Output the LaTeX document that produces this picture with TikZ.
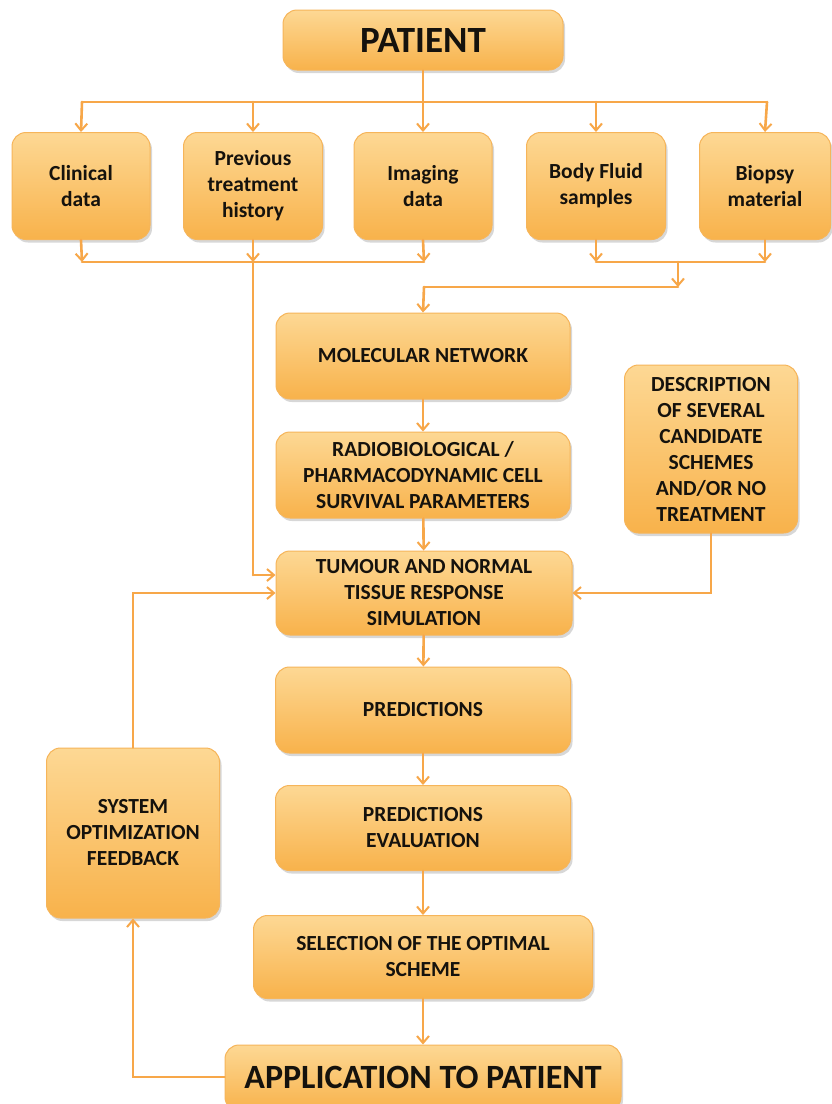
\documentclass[tikz,border=0pt]{standalone}
\usepackage{fontspec}
\setmainfont{Carlito}
\usetikzlibrary{arrows.meta,shadows,positioning}
\definecolor{boxtop}{HTML}{FDD894}
\definecolor{boxbot}{HTML}{F8B24B}
\definecolor{boxedge}{HTML}{F6B55A}
\definecolor{wire}{HTML}{F7A749}
\definecolor{ink}{HTML}{15120D}
\tikzset{
  card/.style={rectangle, rounded corners=14pt, top color=boxtop, bottom color=boxbot,
    draw=boxedge, line width=1pt, align=center, text=ink, inner sep=2pt,
    font=\bfseries\fontsize{21.5}{26}\selectfont,
    drop shadow={shadow xshift=2pt, shadow yshift=-3pt, opacity=0.22, fill=black!70}},
  bigcard/.style={card, font=\bfseries\fontsize{37}{42}\selectfont},
  wireline/.style={draw=wire, line width=2.6pt, line cap=round},
  feed/.style={wireline, -{Straight Barb[length=7pt,width=12pt,line width=2pt]}},
}
\begin{document}
\begin{tikzpicture}[x=1pt,y=-1pt]
\useasboundingbox[fill=white] (0,0) rectangle (832,1104);

% top level and data sources
\node[bigcard, minimum width=280pt, minimum height=60pt] (patient) at (423,40) {PATIENT};
\node[card, minimum width=138pt, minimum height=107pt] (clin) at (81,186) {Clinical\\data};
\node[card, minimum width=139pt, minimum height=107pt] (prev) at (253,186) {Previous\\treatment\\history};
\node[card, minimum width=138pt, minimum height=107pt] (img) at (423,186) {Imaging\\data};
\node[card, minimum width=139pt, minimum height=107pt] (fluid) at (596,186) {Body Fluid\\samples};
\node[card, minimum width=131pt, minimum height=107pt] (biop) at (765,186) {Biopsy\\material};

% main processing chain
\node[card, minimum width=294pt, minimum height=86pt] (mol) at (423,356) {MOLECULAR NETWORK};
\node[card, minimum width=294pt, minimum height=86pt] (rad) at (423,475) {RADIOBIOLOGICAL /\\PHARMACODYNAMIC CELL\\SURVIVAL PARAMETERS};
\node[card, minimum width=296pt, minimum height=84pt] (tum) at (424,593) {TUMOUR AND NORMAL\\TISSUE RESPONSE\\SIMULATION};
\node[card, minimum width=173pt, minimum height=168pt] (desc) at (711,449) {DESCRIPTION\\OF SEVERAL\\CANDIDATE\\SCHEMES\\AND/OR NO\\TREATMENT};
\node[card, minimum width=295pt, minimum height=86pt] (pred) at (423,710) {PREDICTIONS};
\node[card, minimum width=295pt, minimum height=85pt] (eval) at (423,828) {PREDICTIONS\\EVALUATION};
\node[card, minimum width=339pt, minimum height=83pt] (sel) at (423,957) {SELECTION OF THE OPTIMAL\\SCHEME};
\node[bigcard, font=\bfseries\fontsize{34}{38}\selectfont, minimum width=396pt, minimum height=66pt] (app) at (423,1078) {\raisebox{2pt}{APPLICATION TO PATIENT}};
\node[card, minimum width=173pt, minimum height=170pt] (sys) at (133,833) {SYSTEM\\OPTIMIZATION\\FEEDBACK};

% junction points
\coordinate (split) at (423,102);
\coordinate (busL) at (82,102);
\coordinate (busR) at (767,102);
\coordinate (jclin) at (82,262);
\coordinate (jprev) at (253,262);
\coordinate (jimg) at (424,262);
\coordinate (jfluid) at (596,262);
\coordinate (jbiop) at (765,262);
\coordinate (jmid) at (678,262);
\coordinate (jdrop) at (678,287);
\coordinate (jmol) at (424,287);
\coordinate (prevturn) at (253,575);
\coordinate (descturn) at (711,593);
\coordinate (sysup) at (133,593);
\coordinate (appturn) at (133,1077);

% fan-out from the patient
\draw[wireline] (patient.south) -- (split);
\draw[wireline] (busL) -- (busR);
\foreach \b/\x in {clin/82, prev/253, img/423, fluid/596, biop/767}
  \draw[feed] (\x,102) -- (\b.north);

% collection under the data boxes
\draw[feed] (clin.south) -- (jclin);
\draw[feed] (img.south) -- (jimg);
\draw[wireline] (jclin) -- (jimg);
\draw[feed] (prev.south) -- (jprev);
\draw[wireline] (jprev) -- (prevturn);
\draw[feed] (prevturn) -- ([yshift=18pt]tum.west);

\draw[feed] (fluid.south) -- (jfluid);
\draw[feed] (biop.south) -- (jbiop);
\draw[wireline] (jfluid) -- (jbiop);
\draw[feed] (jmid) -- (jdrop);
\draw[wireline] (jdrop) -- (jmol);
\draw[feed] (jmol) -- (mol.north);

% chain
\draw[feed] (mol) -- (rad);
\draw[feed] (rad) -- (tum);
\draw[feed] (tum) -- (pred);
\draw[feed] (pred) -- (eval);
\draw[feed] (eval) -- (sel);
\draw[feed] (sel) -- (app);

% candidate schemes into the simulation
\draw[feed] (desc.south) -- (descturn) -- (tum.east);

% feedback loop
\draw[feed] (app.west |- appturn) -- (appturn) -- (sys.south);
\draw[feed] (sys.north) -- (sysup) -- (tum.west);
\end{tikzpicture}
\end{document}
